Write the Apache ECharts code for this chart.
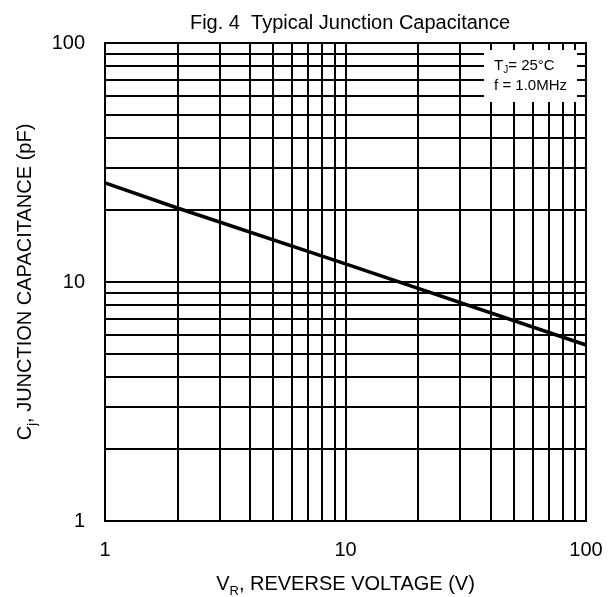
<!DOCTYPE html>
<html>
<head>
<meta charset="utf-8">
<script src="https://cdn.jsdelivr.net/npm/echarts@6/dist/echarts.min.js"></script>
<style>html,body{margin:0;padding:0;background:#fff}#c{width:616px;height:597px}</style>
</head>
<body>
<div id="c"></div>
<script>
// Data
const voltage = [1, 2, 10, 100];            // V_R (V)
const capacitance = [26, 20.4, 11.9, 5.45]; // C_j (pF)
// Minor grid values (log decades)
const xMinorGrid = [2,3,4,5,6,7,8,9,20,30,40,50,60,70,80,90];
const yMinorGrid = [2,3,4,5,6,7,8,9,20,30,40,50,60,70,80,90];
const xTicks = [1, 10, 100];
const yTicks = [1, 10, 100];

const FONT = 'Liberation Sans, Arial, sans-serif';
const chart = echarts.init(document.getElementById('c'), null, {renderer: 'canvas'});

const gridMarks = xMinorGrid.map(v => ({xAxis: v}))
  .concat(yMinorGrid.map(v => ({yAxis: v})));

chart.setOption({
  animation: false,
  backgroundColor: '#fff',
  title: [{
    text: 'Fig. 4  Typical Junction Capacitance',
    left: 345, top: 8, textAlign: 'center',
    textStyle: {fontFamily: FONT, fontSize: 20, fontWeight: 'normal', color: '#000'}
  }, {
    text: '{a|T}{s|J}{a|= 25°C}\n{a|f = 1.0MHz}',
    right: 39, top: 50,
    backgroundColor: '#fff',
    padding: [6, 10, 6, 10],
    textStyle: {
      fontFamily: FONT, fontSize: 15, fontWeight: 'normal', color: '#000', lineHeight: 20,
      rich: {
        a: {fontFamily: FONT, fontSize: 15, color: '#000', lineHeight: 20},
        s: {fontFamily: FONT, fontSize: 10, color: '#000', lineHeight: 20, padding: [8, 0, 0, 0]}
      }
    },
    z: 10
  }],
  grid: {left: 105, right: 30, top: 43, bottom: 76, show: true, borderColor: '#000', borderWidth: 2,
    containLabel: false, outerBoundsMode: 'none'},
  xAxis: {
    type: 'log', logBase: 10, min: 1, max: 100,
    axisLine: {show: true, lineStyle: {color: '#000', width: 2}},
    axisTick: {show: false},
    splitLine: {show: true, lineStyle: {color: '#000', width: 2}},
    axisLabel: {fontFamily: FONT, fontSize: 20, color: '#000', margin: 19,
      formatter: v => xTicks.includes(v) ? String(v) : ''},
    name: '{a|V}{s|R}{a|, REVERSE VOLTAGE (V)}',
    nameLocation: 'middle', nameGap: 50,
    nameTextStyle: {
      fontFamily: FONT, fontSize: 20, color: '#000',
      rich: {
        a: {fontFamily: FONT, fontSize: 20, color: '#000'},
        s: {fontFamily: FONT, fontSize: 13, color: '#000', padding: [14, 0, 0, 0]}
      }
    }
  },
  yAxis: {
    type: 'log', logBase: 10, min: 1, max: 100,
    axisLine: {show: true, lineStyle: {color: '#000', width: 2}},
    axisTick: {show: false},
    splitLine: {show: true, lineStyle: {color: '#000', width: 2}},
    axisLabel: {fontFamily: FONT, fontSize: 20, color: '#000', margin: 20,
      formatter: v => yTicks.includes(v) ? String(v) : ''},
    name: '{a|C}{s|j}{a|, JUNCTION CAPACITANCE (pF)}',
    nameLocation: 'middle', nameGap: 66,
    nameTextStyle: {
      fontFamily: FONT, fontSize: 20, color: '#000',
      rich: {
        a: {fontFamily: FONT, fontSize: 20, color: '#000'},
        s: {fontFamily: FONT, fontSize: 13, color: '#000', padding: [14, 0, 0, 0]}
      }
    }
  },
  series: [{
    type: 'line',
    data: voltage.map((v, i) => [v, capacitance[i]]),
    showSymbol: false, symbol: 'none',
    lineStyle: {color: '#000', width: 3.5},
    z: 5,
    markLine: {
      silent: true, symbol: 'none', label: {show: false},
      lineStyle: {color: '#000', width: 2, type: 'solid'},
      data: gridMarks, z: 1
    }
  }]
});
</script>
</body>
</html>
